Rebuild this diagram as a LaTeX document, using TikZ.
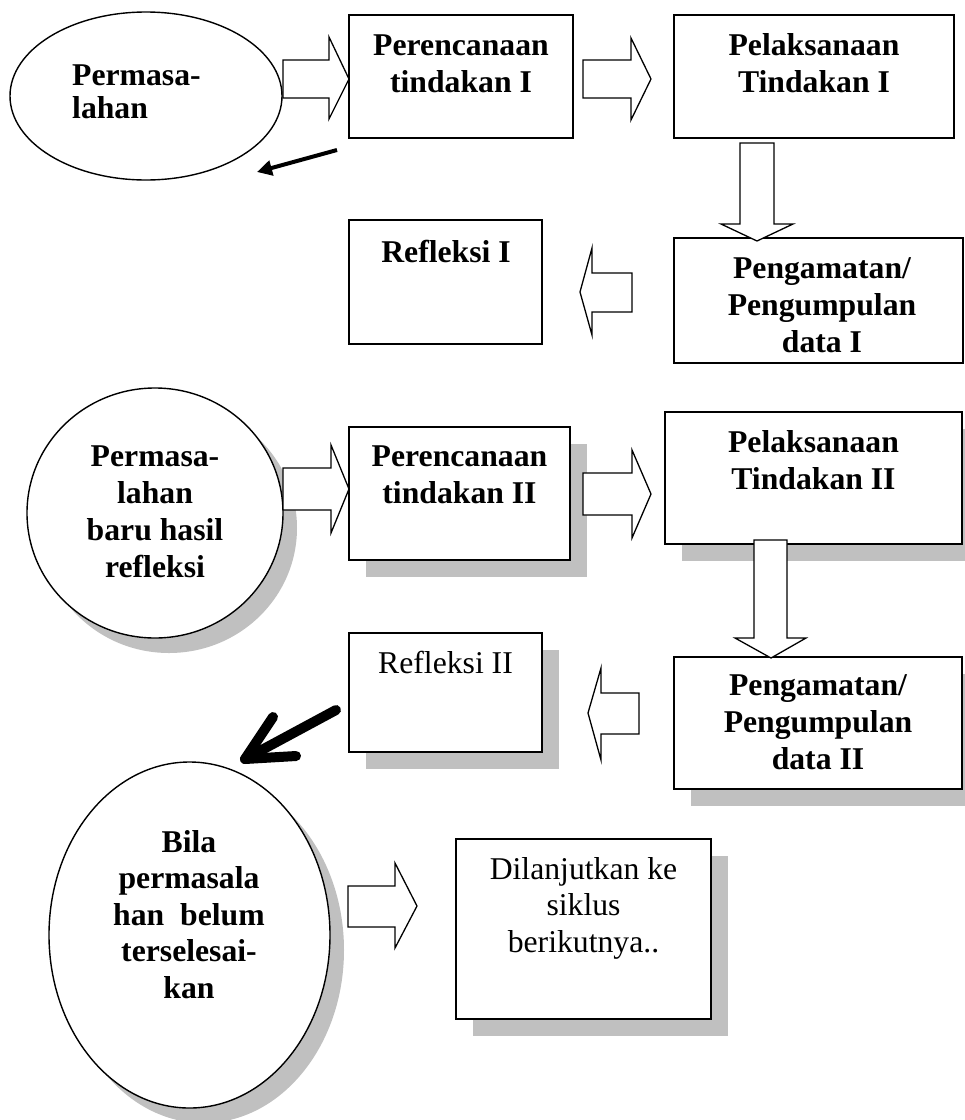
\documentclass[tikz,border=0pt]{standalone}
\usepackage{fontspec}
\setmainfont{Liberation Serif}
\usetikzlibrary{shapes.geometric,arrows.meta,shadows}
\definecolor{shadowgray}{RGB}{192,192,192}
\begin{document}
\begin{tikzpicture}[x=1pt,y=-1pt,
  box/.style={draw=black,line width=1.6pt,fill=white,rectangle,inner sep=0pt},
  oval/.style={draw=black,line width=1.4pt,fill=white,ellipse,inner sep=0pt},
  shad/.style={drop shadow={shadow xshift=17pt,shadow yshift=-17pt,opacity=1,fill=shadowgray}},
  shadov/.style={drop shadow={shadow xshift=14pt,shadow yshift=-15pt,opacity=1,fill=shadowgray}},
  blockarrow/.style={draw=black,line width=1.3pt,fill=white,line join=miter},
  btext/.style={font=\bfseries\fontsize{31.7}{37}\selectfont,align=center,inner sep=0pt,anchor=base},
  rtext/.style={font=\fontsize{31.7}{37}\selectfont,align=center,inner sep=0pt,anchor=base},
  thinarrow/.style={line width=4pt,-{Triangle[length=15pt,width=15pt]}},
  thickarrow/.style={line width=10pt,line cap=round,line join=round}
]
\useasboundingbox (0,0) rectangle (965,1120);

% ---------- cycle I ----------
\node[oval,minimum width=272pt,minimum height=168pt] (e1) at (146,96) {};
\node[btext,anchor=base west,align=left,font=\bfseries\fontsize{31.7}{33}\selectfont] (te1) at (72,118) {Permasa-\\lahan};

\node[box,minimum width=224pt,minimum height=123pt] (b1) at (461,76.5) {};
\node[btext] (tb1) at (461,92) {Perencanaan\\tindakan I};

\node[box,minimum width=280pt,minimum height=123pt] (b2) at (814,76.5) {};
\node[btext] (tb2) at (814,92) {Pelaksanaan\\Tindakan I};

\node[box,minimum width=193pt,minimum height=124pt] (b3) at (445.5,282) {};
\node[btext] (tb3) at (446,262) {Refleksi I};

\node[box,minimum width=289pt,minimum height=125pt] (b4) at (818.5,300.5) {};
\node[btext] (tb4) at (822,352) {Pengamatan/\\Pengumpulan\\data I};

% block arrows cycle I
\draw[blockarrow] (283,60) -- (329,60) -- (329,37) -- (349,79) -- (329,119) -- (329,98) -- (283,98) -- cycle;
\draw[blockarrow] (583,60) -- (631,60) -- (631,38) -- (651,79) -- (631,120) -- (631,98) -- (583,98) -- cycle;
\draw[blockarrow] (740,143) -- (774,143) -- (774,224) -- (793,224) -- (757,241) -- (721,224) -- (740,224) -- cycle;
\draw[blockarrow] (632,273) -- (592,273) -- (592,248) -- (580,292) -- (592,335) -- (592,312) -- (632,312) -- cycle;

\coordinate (r1s) at (337,150);
\coordinate (r1e) at (257,172);
\draw[thinarrow] (r1s) -- (r1e);

% ---------- cycle II ----------
\node[oval,shadov,minimum width=256pt,minimum height=250pt] (e2) at (155,513) {};
\node[btext] (te2) at (155,577) {Permasa-\\lahan\\baru hasil\\refleksi};

\node[box,shad,minimum width=221pt,minimum height=133pt] (b5) at (459.5,493.5) {};
\node[btext] (tb5) at (459.5,503) {Perencanaan\\tindakan II};

\node[box,shad,minimum width=297pt,minimum height=132pt] (b6) at (813.5,478) {};
\node[btext] (tb6) at (813.5,489) {Pelaksanaan\\Tindakan II};

\node[box,shad,minimum width=193pt,minimum height=119pt] (b7) at (445.5,692.5) {};
\node[rtext] (tb7) at (445.5,673) {Refleksi II};

\node[box,shad,minimum width=288pt,minimum height=132pt] (b8) at (818,723) {};
\node[btext] (tb8) at (818,769) {Pengamatan/\\Pengumpulan\\data II};

% block arrows cycle II
\draw[blockarrow] (283,468) -- (331,468) -- (331,445) -- (349,489) -- (331,533) -- (331,510) -- (283,510) -- cycle;
\draw[blockarrow] (583,473) -- (632,473) -- (632,450) -- (651,494) -- (632,538) -- (632,515) -- (583,515) -- cycle;
\draw[blockarrow] (754,540) -- (787,540) -- (787,638) -- (806,638) -- (771,658) -- (735,638) -- (754,638) -- cycle;
\draw[blockarrow] (639,693) -- (601,693) -- (601,668) -- (588,713) -- (601,760) -- (601,734) -- (639,734) -- cycle;

\coordinate (r2s) at (336,710);
\coordinate (r2e) at (245,759);
\coordinate (r2a) at (296,756);
\coordinate (r2b) at (273,717);
\draw[thickarrow] (r2s) -- (r2e);
\draw[thickarrow] (r2b) -- (r2e) -- (r2a);

% ---------- continuation ----------
\node[oval,shadov,minimum width=281pt,minimum height=346pt] (e3) at (189.5,935) {};
\node[btext,font=\bfseries\fontsize{31.7}{36.5}\selectfont] (te3) at (189,998) {Bila\\permasala\\han~~belum\\terselesai-\\kan};

\node[box,shad,minimum width=255pt,minimum height=180pt] (b9) at (583.5,929) {};
\node[rtext,font=\fontsize{31.7}{36.5}\selectfont] (tb9) at (583.5,952) {Dilanjutkan ke\\siklus\\berikutnya..};

\draw[blockarrow] (348,886) -- (395,886) -- (395,863) -- (417,906) -- (395,948) -- (395,927) -- (348,927) -- cycle;
\end{tikzpicture}
\end{document}
